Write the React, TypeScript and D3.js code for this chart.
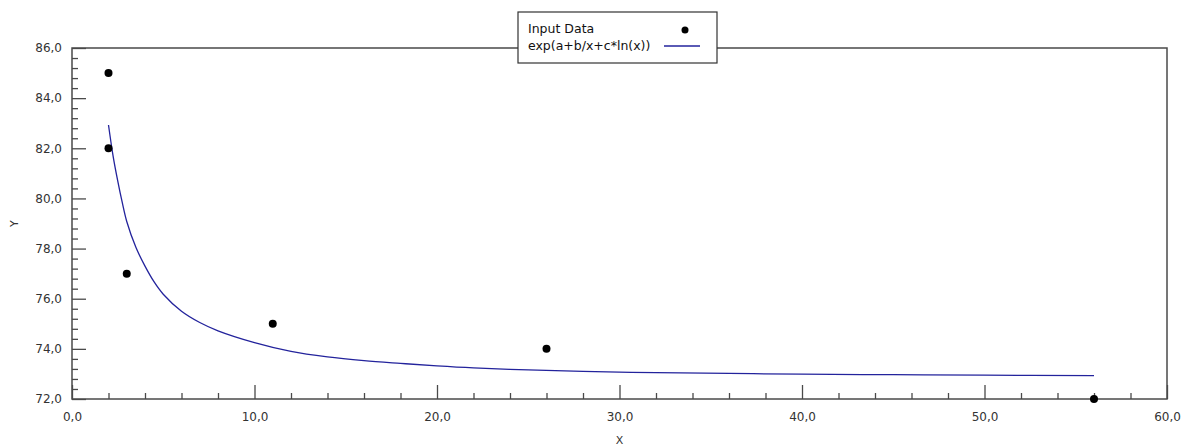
import { useEffect, useRef } from "react";
import * as d3 from "d3";

const WIDTH = 1182;
const HEIGHT = 446;
const PAD = { left: 72, right: 15, top: 48, bottom: 47 };
const FONT = "'DejaVu Sans', sans-serif";
const AXIS_COLOR = "#4a4a4a";
const CURVE_COLOR = "#23239c";

// input points (x, y)
const inputX = [2, 2, 3, 11, 26, 56];
const inputY = [85, 82, 77, 75, 74, 72];

// fitted curve exp(a+b/x+c*ln(x))
const curveX = [2, 2.25, 2.5, 2.75, 3, 3.5, 4, 4.5, 5, 6, 7, 8, 10, 12, 14, 16, 18, 20, 22, 25, 28, 32, 36, 40, 45, 50, 56];
const curveY = [
  82.93, 81.7, 80.72, 79.85, 79.08, 78.05, 77.3, 76.67, 76.18, 75.5, 75.05, 74.72, 74.25, 73.9, 73.68, 73.53, 73.42, 73.32,
  73.24, 73.16, 73.1, 73.05, 73.02, 72.99, 72.97, 72.95, 72.93,
];

const xMajor = [0, 10, 20, 30, 40, 50, 60];
const yMajor = [72, 74, 76, 78, 80, 82, 84, 86];

const legendLabels = ["Input Data", "exp(a+b/x+c*ln(x))"];

const fmt = (d: number) => d.toFixed(1).replace(".", ",");

export default function App() {
  const svgRef = useRef<SVGSVGElement | null>(null);

  useEffect(() => {
    const svgEl = svgRef.current;
    if (!svgEl) return;
    const svg = d3.select(svgEl);
    svg.selectAll("*").remove();

    const x = d3.scaleLinear().domain([0, 60]).range([PAD.left, WIDTH - PAD.right]);
    const y = d3.scaleLinear().domain([72, 86]).range([HEIGHT - PAD.bottom, PAD.top]);

    svg.append("rect").attr("width", WIDTH).attr("height", HEIGHT).attr("fill", "#fff");

    const xMinor = d3.range(0, 60.001, 2).filter((v) => !xMajor.includes(v));
    const yMinor = d3.range(72, 86.001, 0.4).filter((v) => Math.abs(v - Math.round(v / 2) * 2) > 0.01);

    const styleAxis = (g: d3.Selection<SVGGElement, unknown, null, undefined>) => {
      g.select(".domain").remove();
      g.selectAll(".tick line").attr("stroke", AXIS_COLOR).attr("stroke-width", 1.3);
      g.selectAll("text").attr("fill", "#333").attr("font-family", FONT).attr("font-size", "12px");
    };

    // minor ticks
    svg
      .append("g")
      .attr("transform", `translate(${PAD.left},0)`)
      .call(d3.axisLeft(y).tickValues(yMinor).tickSize(-6).tickFormat(() => ""))
      .call(styleAxis);
    svg
      .append("g")
      .attr("transform", `translate(0,${HEIGHT - PAD.bottom})`)
      .call(d3.axisBottom(x).tickValues(xMinor).tickSize(-6).tickFormat(() => ""))
      .call(styleAxis);

    // major ticks + labels
    svg
      .append("g")
      .attr("transform", `translate(${PAD.left},0)`)
      .call(d3.axisLeft(y).tickValues(yMajor).tickSize(-14).tickPadding(10).tickFormat((d) => fmt(Number(d))))
      .call(styleAxis);
    svg
      .append("g")
      .attr("transform", `translate(0,${HEIGHT - PAD.bottom})`)
      .call(d3.axisBottom(x).tickValues(xMajor).tickSize(-14).tickPadding(13).tickFormat((d) => fmt(Number(d))))
      .call(styleAxis);

    // frame
    svg
      .append("rect")
      .attr("x", PAD.left)
      .attr("y", PAD.top)
      .attr("width", WIDTH - PAD.left - PAD.right)
      .attr("height", HEIGHT - PAD.top - PAD.bottom)
      .attr("fill", "none")
      .attr("stroke", AXIS_COLOR)
      .attr("stroke-width", 1.5);

    // axis titles
    svg
      .append("text")
      .attr("x", (PAD.left + WIDTH - PAD.right) / 2)
      .attr("y", HEIGHT - 2)
      .attr("text-anchor", "middle")
      .attr("fill", "#333")
      .attr("font-family", FONT)
      .attr("font-size", "11px")
      .text("X");
    const yMid = (PAD.top + HEIGHT - PAD.bottom) / 2;
    svg
      .append("text")
      .attr("x", 14)
      .attr("y", yMid)
      .attr("transform", `rotate(-90, 14, ${yMid})`)
      .attr("text-anchor", "middle")
      .attr("dy", "0.35em")
      .attr("fill", "#333")
      .attr("font-family", FONT)
      .attr("font-size", "11px")
      .text("Y");

    // curve
    const curve = d3.zip(curveX, curveY) as [number, number][];
    svg
      .append("path")
      .datum(curve)
      .attr("fill", "none")
      .attr("stroke", CURVE_COLOR)
      .attr("stroke-width", 1.3)
      .attr("d", d3.line<[number, number]>().x((d) => x(d[0])).y((d) => y(d[1])).curve(d3.curveCatmullRom.alpha(0.5)));

    // points
    svg
      .append("g")
      .selectAll("circle")
      .data(d3.zip(inputX, inputY))
      .join("circle")
      .attr("cx", (d) => x(d[0]))
      .attr("cy", (d) => y(d[1]))
      .attr("r", 4)
      .attr("fill", "#000");

    // legend
    const lg = svg.append("g").attr("transform", "translate(518,12)");
    lg.append("rect").attr("width", 199).attr("height", 51).attr("fill", "#fff").attr("stroke", "#333").attr("stroke-width", 1.2);
    lg.selectAll("text")
      .data(legendLabels)
      .join("text")
      .attr("x", 10)
      .attr("y", (_, i) => 21 + i * 16.5)
      .attr("fill", "#111")
      .attr("font-family", FONT)
      .attr("font-size", "12.5px")
      .text((d) => d);
    lg.append("circle").attr("cx", 167).attr("cy", 18).attr("r", 3.5).attr("fill", "#000");
    lg.append("line").attr("x1", 146).attr("x2", 182).attr("y1", 34).attr("y2", 34).attr("stroke", CURVE_COLOR).attr("stroke-width", 1.3);
  }, []);

  return (
    <div style={{ position: "fixed", left: 0, top: 0, width: WIDTH, height: HEIGHT, background: "#fff" }}>
      <svg ref={svgRef} width={WIDTH} height={HEIGHT} viewBox={`0 0 ${WIDTH} ${HEIGHT}`} />
    </div>
  );
}
